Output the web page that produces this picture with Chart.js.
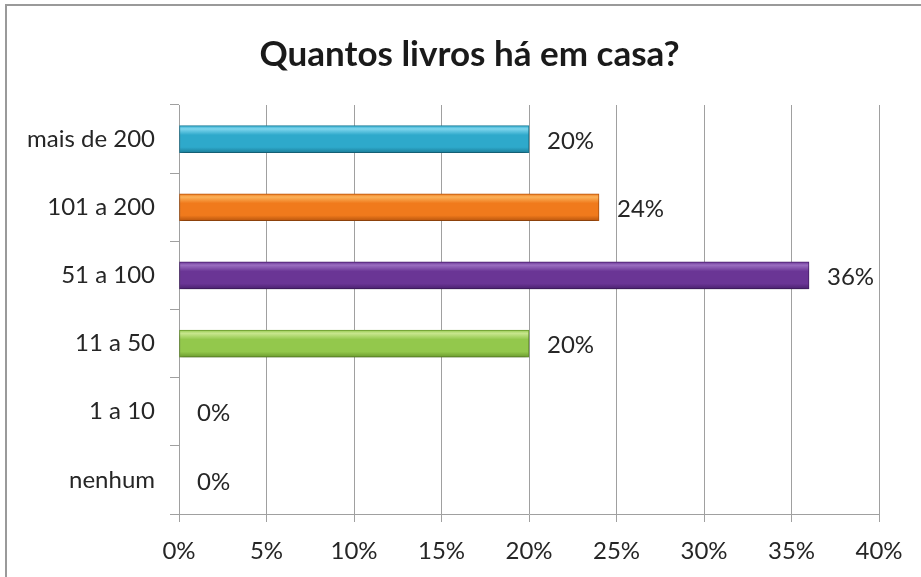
<!DOCTYPE html>
<html>
<head>
<meta charset="utf-8">
<script src="https://cdn.jsdelivr.net/npm/chart.js@4/dist/chart.umd.min.js"></script>
<style>
  html, body { margin: 0; padding: 0; background: #fff; }
  #wrap { position: relative; width: 921px; height: 577px; }
</style>
</head>
<body>
<div id="wrap"><canvas id="livros"></canvas></div>
<script>
// categories top to bottom, percentages per answer
const categorias = ["mais de 200", "101 a 200", "51 a 100", "11 a 50", "1 a 10", "nenhum"];
const percentagens = [20, 24, 36, 20, 0, 0];
const ticksX = [0, 5, 10, 15, 20, 25, 30, 35, 40];

// base, light and dark tone per bar
const cores = [
  ["#2ea9cb", "#7fd6ee", "#1b7f9b"],
  ["#f07a1c", "#fbb25a", "#b9560e"],
  ["#6a3595", "#9a6dc0", "#4b2170"],
  ["#93c84c", "#c8e68e", "#6c9c2e"],
  ["#999999", "#cccccc", "#666666"],
  ["#999999", "#cccccc", "#666666"]
];

const FONTE = "Lato, 'Open Sans', sans-serif";
const ESPESSURA = 27;

function gradiente(context) {
  const chart = context.chart;
  const i = context.dataIndex;
  const c = cores[i];
  if (!c) return "#999";
  const y = chart.scales.y;
  const mid = y ? y.getPixelForValue(i) : NaN;
  if (!isFinite(mid)) return c[0];
  const top = mid - ESPESSURA / 2;
  const g = chart.ctx.createLinearGradient(0, top, 0, top + ESPESSURA);
  g.addColorStop(0, c[0]);
  g.addColorStop(0.12, c[1]);
  g.addColorStop(0.35, c[0]);
  g.addColorStop(0.8, c[0]);
  g.addColorStop(1, c[2]);
  return g;
}

// outer frame: top and left edges
const moldura = {
  id: "moldura",
  beforeDraw(chart) {
    const ctx = chart.ctx;
    ctx.save();
    ctx.strokeStyle = "#9a9a9a";
    ctx.lineWidth = 2;
    ctx.beginPath();
    ctx.moveTo(6, 577);
    ctx.lineTo(6, 5);
    ctx.lineTo(921, 5);
    ctx.stroke();
    ctx.restore();
  }
};

// soft drop shadow under the bars
const sombra = {
  id: "sombra",
  beforeDatasetsDraw(chart) {
    const ctx = chart.ctx;
    ctx.save();
    ctx.shadowColor = "rgba(0,0,0,0.28)";
    ctx.shadowBlur = 5;
    ctx.shadowOffsetY = 4;
  },
  afterDatasetsDraw(chart) {
    chart.ctx.restore();
  }
};

// value labels to the right of each bar
const rotulos = {
  id: "rotulos",
  afterDatasetsDraw(chart) {
    const ctx = chart.ctx;
    const meta = chart.getDatasetMeta(0);
    ctx.save();
    ctx.font = "24px " + FONTE;
    ctx.fillStyle = "#262626";
    ctx.textAlign = "left";
    ctx.textBaseline = "middle";
    meta.data.forEach((bar, i) => {
      ctx.fillText(percentagens[i] + "%", bar.x + 18, bar.y + 2);
    });
    ctx.restore();
  }
};

new Chart(document.getElementById("livros"), {
  type: "bar",
  data: {
    labels: categorias,
    datasets: [{
      data: percentagens,
      backgroundColor: gradiente,
      borderColor: (ctx) => (cores[ctx.dataIndex] || cores[4])[2],
      borderWidth: 1,
      borderSkipped: false,
      barThickness: ESPESSURA
    }]
  },
  options: {
    indexAxis: "y",
    responsive: true,
    maintainAspectRatio: false,
    animation: false,
    layout: { padding: { left: 18, right: 0, top: 0, bottom: 0 } },
    plugins: {
      legend: { display: false },
      tooltip: { enabled: false },
      title: {
        display: true,
        text: "Quantos livros há em casa?",
        color: "#1a1a1a",
        font: { family: FONTE, size: 35, weight: "bold", lineHeight: 1.2 },
        padding: { top: 34, bottom: 29 }
      }
    },
    scales: {
      x: {
        min: 0,
        max: 40,
        afterBuildTicks(scale) {
          scale.ticks = ticksX.map(v => ({ value: v }));
        },
        afterFit(scale) {
          scale.height = 63;
          scale.paddingRight = 42;
        },
        ticks: {
          callback: (v) => v + "%",
          color: "#262626",
          font: { family: FONTE, size: 24 },
          padding: 15
        },
        grid: { color: "#a0a0a0", lineWidth: 1, tickLength: 8 },
        border: { color: "#a0a0a0", width: 1 }
      },
      y: {
        afterFit(scale) { scale.width = 161; },
        ticks: {
          color: "#262626",
          font: { family: FONTE, size: 24 },
          padding: 15
        },
        grid: { drawOnChartArea: false, color: "#a0a0a0", tickLength: 9, offset: true },
        border: { color: "#a0a0a0", width: 1 }
      }
    }
  },
  plugins: [moldura, sombra, rotulos]
});
</script>
</body>
</html>
